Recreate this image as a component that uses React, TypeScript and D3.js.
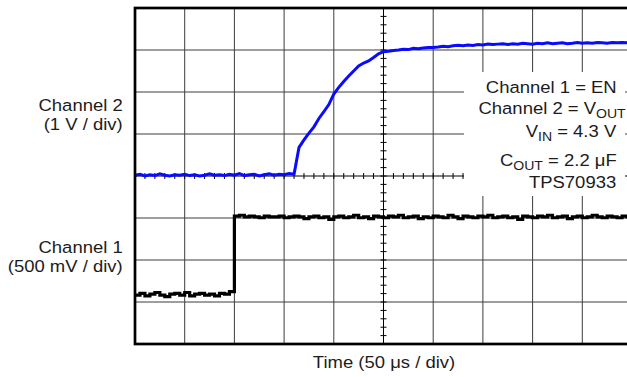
import React from "react";
import * as d3 from "d3";

// Sample times (µs), 50 µs / div, 10 divisions
const sampleTimesUs = [
  0, 5, 10, 15, 20, 25, 30, 35, 40, 45, 50, 55, 60, 65, 70, 75, 80, 85, 90, 95,
  100, 105, 110, 115, 120, 125, 130, 135, 140, 145, 150, 155, 160, 165, 170, 175, 180, 185, 190, 195,
  200, 205, 210, 215, 220, 225, 230, 235, 240, 245, 250, 255, 260, 265, 270, 275, 280, 285, 290, 295,
  300, 305, 310, 315, 320, 325, 330, 335, 340, 345, 350, 355, 360, 365, 370, 375, 380, 385, 390, 395,
  400, 405, 410, 415, 420, 425, 430, 435, 440, 445, 450, 455, 460, 465, 470, 475, 480, 485, 490, 495, 500,
];

// Channel 2 = VOUT (V), 1 V / div
const channel2Volts = [
  0.02, 0.04, 0.0, 0.03, 0.01, 0.05, 0.02, 0.0, 0.03, 0.02, 0.04, 0.01, 0.03, 0.0, 0.02, 0.05, 0.02, 0.03, 0.01, 0.04,
  0.02, 0.06, 0.01, 0.03, 0.04, 0.0, 0.03, 0.05, 0.02, 0.04, 0.03, 0.06, 0.04, 0.68, 0.86, 1.02, 1.17, 1.37, 1.53, 1.7,
  1.95, 2.11, 2.25, 2.38, 2.5, 2.62, 2.69, 2.74, 2.82, 2.91, 2.96, 2.97, 2.99, 3.0, 3.02, 3.01, 3.04, 3.03, 3.05, 3.06,
  3.06, 3.07, 3.09, 3.08, 3.1, 3.11, 3.1, 3.12, 3.11, 3.13, 3.12, 3.14, 3.13, 3.14, 3.15, 3.13, 3.15, 3.14, 3.16, 3.15,
  3.14, 3.16, 3.15, 3.17, 3.15, 3.16, 3.17, 3.15, 3.16, 3.18, 3.16, 3.17, 3.16, 3.18, 3.17, 3.16, 3.18, 3.17, 3.18, 3.17, 3.18,
];

// Channel 1 = EN (V), 500 mV / div
const channel1Volts = [
  0.0, 0.02, -0.01, 0.01, 0.03, 0.0, -0.02, 0.01, 0.02, 0.0, 0.03, -0.01, 0.01, 0.02, 0.0, 0.01, -0.01, 0.02, 0.01, 0.04,
  0.94, 0.95, 0.93, 0.94, 0.93, 0.92, 0.94, 0.93, 0.93, 0.94, 0.92, 0.93, 0.94, 0.93, 0.91, 0.93, 0.94, 0.92, 0.93, 0.9,
  0.93, 0.94, 0.92, 0.93, 0.95, 0.92, 0.93, 0.91, 0.94, 0.93, 0.92, 0.94, 0.93, 0.95, 0.92, 0.93, 0.94, 0.91, 0.93, 0.92,
  0.94, 0.93, 0.92, 0.95, 0.93, 0.91, 0.94, 0.93, 0.92, 0.94, 0.93, 0.95, 0.92, 0.93, 0.94, 0.92, 0.93, 0.9, 0.94, 0.93,
  0.92, 0.94, 0.93, 0.95, 0.92, 0.93, 0.94, 0.91, 0.93, 0.94, 0.92, 0.93, 0.95, 0.93, 0.92, 0.94, 0.93, 0.92, 0.94, 0.93, 0.93,
];

const timeDomainUs = [0, 500];
const ch2DomainV = [-4, 4];
const ch1DomainV = [-0.583, 3.417];
const xDivisions = 10;
const yDivisions = 8;

const annotationLines = [
  { main: "Channel 1 = EN", sub: "", tail: "" },
  { main: "Channel 2 = V", sub: "OUT", tail: "" },
  { main: "V", sub: "IN", tail: " = 4.3 V" },
  { main: "C", sub: "OUT", tail: " = 2.2 μF" },
  { main: "TPS70933", sub: "", tail: "" },
];

const W = 627;
const H = 377;
const L = 135;
const R = 632;
const T = 8;
const B = 344;
const FONT = "'Liberation Sans', Arial, Helvetica, sans-serif";
const SX = 1.1;
const FS = 16.8;
const TXT = "#1c1c1c";

function Label({ x, y, anchor = "end", children }: any) {
  return (
    <text
      transform={`translate(${x},${y}) scale(${SX},1)`}
      textAnchor={anchor}
      fontFamily={FONT}
      fontSize={FS}
      fill={TXT}
    >
      {children}
    </text>
  );
}

export default function App() {
  const x = d3.scaleLinear().domain(timeDomainUs).range([L, R]);
  const y2 = d3.scaleLinear().domain(ch2DomainV).range([B, T]);
  const y1 = d3.scaleLinear().domain(ch1DomainV).range([B, T]);

  const xStep = (R - L) / xDivisions;
  const yStep = (B - T) / yDivisions;
  const xCenter = x(250);
  const yCenter = y2(0);

  const line2 = d3
    .line<number>()
    .x((_, i) => x(sampleTimesUs[i]))
    .y((d) => y2(d))
    .curve(d3.curveLinear);
  const line1 = d3
    .line<number>()
    .x((_, i) => x(sampleTimesUs[i]))
    .y((d) => y1(d))
    .curve(d3.curveStepAfter);

  const vLines = d3.range(1, xDivisions).map((i) => L + i * xStep);
  const hLines = d3.range(1, yDivisions).map((j) => T + j * yStep);
  const hTicks = d3.range(0, 501, 10);
  const vTicks = d3.range(-4, 4.01, 0.2);

  const baselines = [92.7, 113.5, 137.3, 165.7, 188.3];
  const rights = [616.7, 625.7, 616.2, 616.7, 616.2];

  return (
    <svg
      width={W}
      height={H}
      style={{ position: "absolute", left: 0, top: 0, background: "#fff" }}
    >
      <rect x={0} y={0} width={W} height={H} fill="#fff" />
      {vLines.map((vx, i) =>
        Math.abs(vx - xCenter) < 1 ? null : (
          <line key={"v" + i} x1={vx} x2={vx} y1={T} y2={B} stroke="#3c3c3c" strokeWidth={1} />
        )
      )}
      {hLines.map((hy, i) =>
        Math.abs(hy - yCenter) < 1 ? null : (
          <line key={"h" + i} x1={L} x2={R} y1={hy} y2={hy} stroke="#3c3c3c" strokeWidth={1} />
        )
      )}
      <line x1={xCenter} x2={xCenter} y1={T} y2={B} stroke="#000" strokeWidth={1} />
      <line x1={L} x2={R} y1={yCenter} y2={yCenter} stroke="#000" strokeWidth={1} />
      {hTicks.map((t) => (
        <line key={"ht" + t} x1={x(t)} x2={x(t)} y1={yCenter - 3} y2={yCenter + 3} stroke="#000" strokeWidth={1} />
      ))}
      {vTicks.map((v, i) => (
        <line key={"vt" + i} x1={xCenter - 3} x2={xCenter + 3} y1={y2(v)} y2={y2(v)} stroke="#000" strokeWidth={1} />
      ))}

      <rect x={464} y={72} width={161} height={124} fill="#fff" />

      <path d={line2(channel2Volts) || ""} fill="none" stroke="#0a0aff" strokeWidth={3} strokeLinejoin="miter" />
      <path d={line1(channel1Volts) || ""} fill="none" stroke="#000" strokeWidth={3.2} />

      <rect x={L} y={T} width={R - L} height={B - T} fill="none" stroke="#000" strokeWidth={2.7} />

      {annotationLines.map((ln, i) => (
        <Label key={"a" + i} x={rights[i]} y={baselines[i]}>
          {ln.main}
          {ln.sub ? (
            <tspan fontSize={12.8} dy={4}>
              {ln.sub}
            </tspan>
          ) : null}
          {ln.tail ? <tspan dy={-4}>{ln.tail}</tspan> : null}
        </Label>
      ))}

      <Label x={122.7} y={111}>Channel 2</Label>
      <Label x={122.7} y={129.5}>(1 V / div)</Label>
      <Label x={122.7} y={253}>Channel 1</Label>
      <Label x={122.7} y={272}>(500 mV / div)</Label>
      <Label x={384} y={368.3} anchor="middle">Time (50 μs / div)</Label>
    </svg>
  );
}
